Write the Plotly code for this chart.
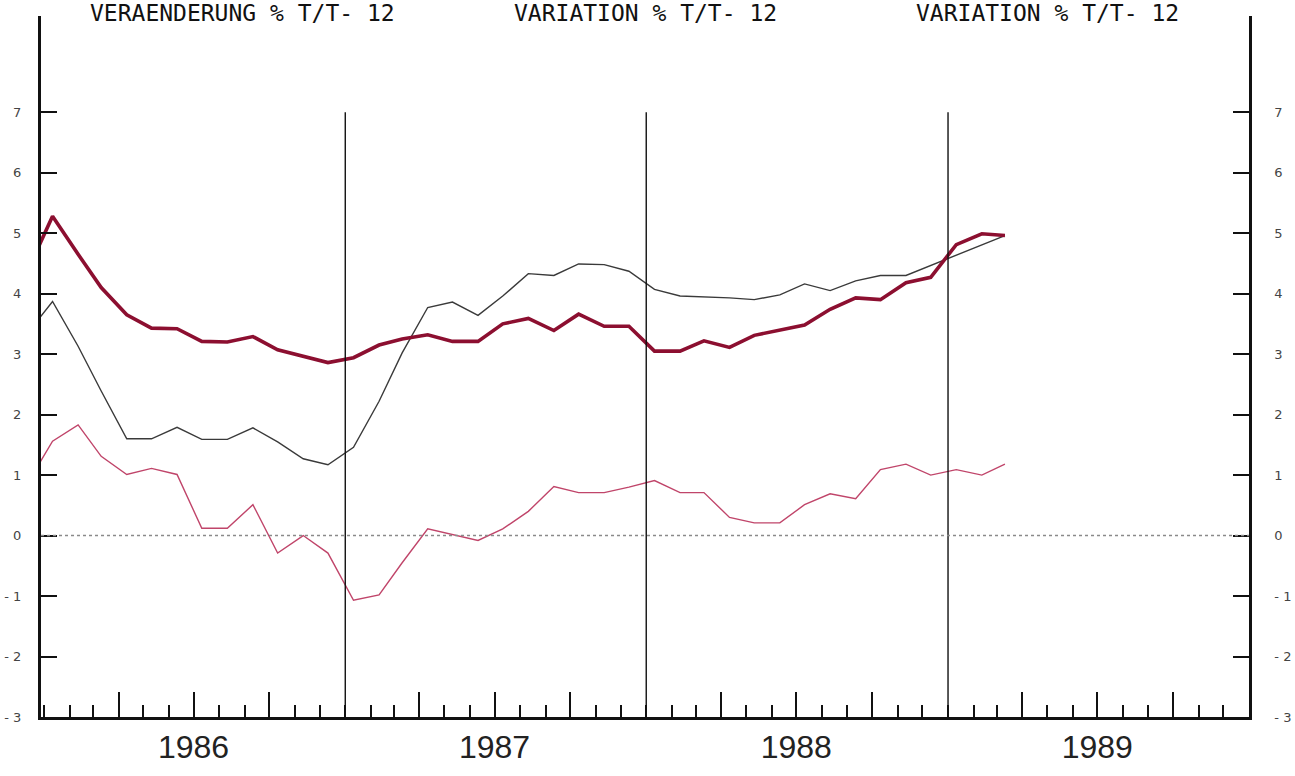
import pandas as pd
import plotly.graph_objects as go

# ---- data (monthly, Dec 1985 .. Mar 1989) ----
start_month = "1985-12-01"
n_months = 40
years = [1986, 1987, 1988, 1989]
year_labels = ["1986", "1987", "1988", "1989"]

thick_red = [4.36, 5.28, 4.65, 4.10, 3.65, 3.43, 3.42, 3.21, 3.20, 3.29,
             3.07, 2.96, 2.86, 2.94, 3.15, 3.25, 3.32, 3.21, 3.21, 3.50,
             3.59, 3.39, 3.66, 3.46, 3.46, 3.05, 3.05, 3.22, 3.11, 3.31,
             3.39, 3.48, 3.74, 3.93, 3.90, 4.18, 4.27, 4.81, 4.99, 4.96]

thin_grey = [3.33, 3.87, 3.13, 2.39, 1.60, 1.60, 1.79, 1.59, 1.59, 1.78,
             1.55, 1.27, 1.17, 1.46, 2.22, 3.02, 3.77, 3.86, 3.64, 3.96,
             4.33, 4.30, 4.49, 4.48, 4.37, 4.07, 3.96, 3.95, 3.93, 3.90,
             3.98, 4.16, 4.05, 4.21, 4.30, 4.30, None, None, None, 4.96]

thin_pink = [0.85, 1.56, 1.83, 1.31, 1.01, 1.11, 1.01, 0.12, 0.12, 0.51,
             -0.29, 0.00, -0.29, -1.07, -0.98, -0.45, 0.11, 0.02, -0.08, 0.11,
             0.40, 0.81, 0.71, 0.71, 0.80, 0.91, 0.71, 0.71, 0.30, 0.21,
             0.21, 0.51, 0.69, 0.61, 1.09, 1.18, 1.00, 1.09, 1.00, 1.18]

y_ticks = [-3, -2, -1, 0, 1, 2, 3, 4, 5, 6, 7]
y_ticktext = ["- 3", "- 2", "- 1", "0", "1", "2", "3", "4", "5", "6", "7"]

titles = ["VERAENDERUNG % T/T- 12", "VARIATION % T/T- 12", "VARIATION % T/T- 12"]

# monthly observation dates (plotted about a third into each month)
dates = pd.date_range(start_month, periods=n_months, freq="MS") + pd.Timedelta(days=10)

fig = go.Figure()

fig.add_trace(go.Scatter(x=dates, y=thin_grey, mode="lines", connectgaps=True,
                         line=dict(color="#3a3a3a", width=1.4), showlegend=False))
fig.add_trace(go.Scatter(x=dates, y=thin_pink, mode="lines",
                         line=dict(color="#c0456a", width=1.4), showlegend=False))
fig.add_trace(go.Scatter(x=dates, y=thick_red, mode="lines",
                         line=dict(color="#8c0f30", width=3.6), showlegend=False))
# anchor trace for the right-hand axis
fig.add_trace(go.Scatter(x=[dates[0]], y=[0], yaxis="y2", mode="markers",
                         marker=dict(opacity=0), hoverinfo="skip", showlegend=False))

# quarterly major ticks (year labels sit at mid-year), monthly minor ticks
q_vals, q_text = [], []
for yr, lab in zip(years, year_labels):
    for m, t in ((4, ""), (7, lab), (10, "")):
        q_vals.append(f"{yr}-{m:02d}-01")
        q_text.append(t)

yfont = dict(family="DejaVu Sans", size=13, color="#444")

fig.update_layout(
    width=1295, height=776,
    margin=dict(l=41, r=46, t=16, b=59, autoexpand=False),
    paper_bgcolor="white", plot_bgcolor="white",
    xaxis=dict(
        type="date", range=["1985-12-28", f"{years[-1] + 1}-01-01"],
        automargin=False,
        showgrid=False, zeroline=False,
        showline=True, linecolor="#111", linewidth=3,
        ticks="inside", ticklen=25, tickwidth=1.5, tickcolor="#111",
        tickmode="array", tickvals=q_vals, ticktext=q_text,
        ticklabelstandoff=0,
        tickfont=dict(family="Liberation Sans", size=32, color="#222"),
        minor=dict(ticks="inside", ticklen=12, tickwidth=1.5, tickcolor="#111",
                   dtick="M1", tick0=f"{years[0]}-01-01", showgrid=False),
    ),
    yaxis=dict(
        range=[-3, 8.59], automargin=False,
        showgrid=False, zeroline=False,
        showline=True, linecolor="#111", linewidth=3,
        ticks="inside", ticklen=16, tickwidth=1.5, tickcolor="#111",
        tickmode="array", tickvals=y_ticks, ticktext=y_ticktext,
        ticklabelstandoff=14, tickfont=yfont,
    ),
    yaxis2=dict(
        overlaying="y", side="right", automargin=False,
        range=[-3, 8.59], showgrid=False, zeroline=False,
        showline=True, linecolor="#111", linewidth=2.5,
        ticks="inside", ticklen=16, tickwidth=1.5, tickcolor="#111",
        tickmode="array", tickvals=y_ticks, ticktext=y_ticktext,
        ticklabelstandoff=20, tickfont=yfont,
    ),
)

# year separator lines
for yr in years[1:]:
    fig.add_shape(type="line", xref="x", yref="y",
                  x0=f"{yr}-01-01", x1=f"{yr}-01-01", y0=y_ticks[0], y1=y_ticks[-1],
                  line=dict(color="#111", width=1.4))

# dotted zero line
fig.add_shape(type="line", xref="paper", yref="y", x0=0, x1=1, y0=0, y1=0,
              line=dict(color="#8a8a8a", width=1.5, dash="dot"))

# headings
for i, t in enumerate(titles):
    fig.add_annotation(text=t, xref="paper", yref="paper",
                       x=(2 * i + 1) / 6, y=1, yshift=18,
                       xanchor="center", yanchor="top", showarrow=False,
                       font=dict(family="DejaVu Sans Mono", size=23, color="#111"))

fig.write_html("out.html",
               config={"displayModeBar": False},
               post_script="document.body.style.margin='0';document.body.style.overflow='hidden';")
